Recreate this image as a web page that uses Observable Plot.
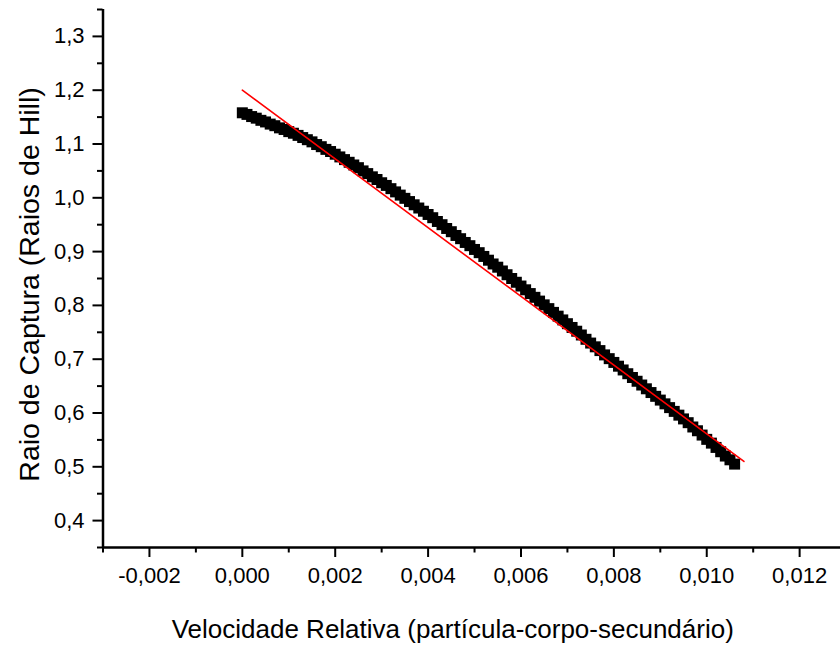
<!DOCTYPE html>
<html>
<head>
<meta charset="utf-8">
<script src="https://cdn.jsdelivr.net/npm/d3@7"></script>
<script src="https://cdn.jsdelivr.net/npm/@observablehq/plot@0.6"></script>
<style>
  html, body { margin: 0; padding: 0; background: #fff; }
  svg { display: block; }
</style>
</head>
<body>
<div id="chart"></div>
<script>
// Relative velocity (x) and capture radius in Hill radii (y)
const velocity = [
  0.0000, 0.0001, 0.0002, 0.0003, 0.0004, 0.0005, 0.0006, 0.0007, 0.0008, 0.0009,
  0.0010, 0.0011, 0.0012, 0.0013, 0.0014, 0.0015, 0.0016, 0.0017, 0.0018, 0.0019,
  0.0020, 0.0021, 0.0022, 0.0023, 0.0024, 0.0025, 0.0026, 0.0027, 0.0028, 0.0029,
  0.0030, 0.0031, 0.0032, 0.0033, 0.0034, 0.0035, 0.0036, 0.0037, 0.0038, 0.0039,
  0.0040, 0.0041, 0.0042, 0.0043, 0.0044, 0.0045, 0.0046, 0.0047, 0.0048, 0.0049,
  0.0050, 0.0051, 0.0052, 0.0053, 0.0054, 0.0055, 0.0056, 0.0057, 0.0058, 0.0059,
  0.0060, 0.0061, 0.0062, 0.0063, 0.0064, 0.0065, 0.0066, 0.0067, 0.0068, 0.0069,
  0.0070, 0.0071, 0.0072, 0.0073, 0.0074, 0.0075, 0.0076, 0.0077, 0.0078, 0.0079,
  0.0080, 0.0081, 0.0082, 0.0083, 0.0084, 0.0085, 0.0086, 0.0087, 0.0088, 0.0089,
  0.0090, 0.0091, 0.0092, 0.0093, 0.0094, 0.0095, 0.0096, 0.0097, 0.0098, 0.0099,
  0.0100, 0.0101, 0.0102, 0.0103, 0.0104, 0.0105, 0.0106
];
const captureRadius = [
  1.158, 1.155, 1.151, 1.148, 1.144, 1.141, 1.137, 1.134, 1.130, 1.127,
  1.123, 1.120, 1.116, 1.112, 1.108, 1.104, 1.099, 1.095, 1.090, 1.086,
  1.081, 1.076, 1.071, 1.066, 1.061, 1.056, 1.050, 1.045, 1.039, 1.034,
  1.028, 1.023, 1.017, 1.011, 1.005, 0.999, 0.993, 0.987, 0.981, 0.975,
  0.969, 0.963, 0.956, 0.950, 0.943, 0.937, 0.930, 0.924, 0.917, 0.911,
  0.904, 0.898, 0.891, 0.884, 0.877, 0.871, 0.864, 0.857, 0.850, 0.843,
  0.836, 0.829, 0.822, 0.815, 0.808, 0.801, 0.794, 0.787, 0.780, 0.773,
  0.766, 0.759, 0.752, 0.745, 0.737, 0.730, 0.723, 0.716, 0.708, 0.701,
  0.694, 0.687, 0.680, 0.673, 0.666, 0.659, 0.652, 0.645, 0.638, 0.631,
  0.624, 0.617, 0.610, 0.603, 0.596, 0.589, 0.582, 0.574, 0.567, 0.559,
  0.551, 0.544, 0.536, 0.528, 0.520, 0.513, 0.505
];
// Linear fit (red line) endpoints
const fitVelocity = [0.0000, 0.0108];
const fitRadius = [1.200, 0.510];

// Axis ticks
const xMajorTicks = [-0.002, 0.000, 0.002, 0.004, 0.006, 0.008, 0.010, 0.012];
const xMinorTicks = [-0.003, -0.001, 0.001, 0.003, 0.005, 0.007, 0.009, 0.011];
const yMajorTicks = [0.4, 0.5, 0.6, 0.7, 0.8, 0.9, 1.0, 1.1, 1.2, 1.3];
const yMinorTicks = [0.35, 0.45, 0.55, 0.65, 0.75, 0.85, 0.95, 1.05, 1.15, 1.25, 1.35];
const xDomain = [-0.003, 0.01288];
const yDomain = [0.35, 1.35];

const xTitle = "Velocidade Relativa (partícula-corpo-secundário)";
const yTitle = "Raio de Captura (Raios de Hill)";

const points = velocity.map((v, i) => ({v, r: captureRadius[i]}));
const fit = fitVelocity.map((v, i) => ({v, r: fitRadius[i]}));

const locale = d3.formatLocale({decimal: ",", thousands: ".", grouping: [3], currency: ["", ""], minus: "-"});
const fmtX = locale.format(".3f");
const fmtY = locale.format(".1f");

const chart = Plot.plot({
  width: 840,
  height: 645,
  marginLeft: 102.5,
  marginRight: 0,
  marginTop: 9,
  marginBottom: 98,
  style: {fontFamily: "'Liberation Sans', Arial, sans-serif", background: "#fff", color: "#000"},
  x: {domain: xDomain, label: null},
  y: {domain: yDomain, label: null},
  marks: [
    Plot.axisX(xMinorTicks, {tickSize: 5.5, strokeWidth: 2, text: null, label: null}),
    Plot.axisX(xMajorTicks, {tickSize: 10, tickPadding: 10, strokeWidth: 2, fontSize: 22, tickFormat: fmtX, label: null}),
    Plot.axisY(yMinorTicks, {tickSize: 5.5, strokeWidth: 2, text: null, label: null}),
    Plot.axisY(yMajorTicks, {tickSize: 10, tickPadding: 8.5, strokeWidth: 2, fontSize: 22, tickFormat: fmtY, label: null}),
    Plot.ruleY([yDomain[0]], {stroke: "#000", strokeWidth: 2.5}),
    Plot.ruleX([xDomain[0]], {stroke: "#000", strokeWidth: 2.5}),
    Plot.dot(points, {x: "v", y: "r", symbol: "square", r: 6.2, fill: "#000", stroke: "none"}),
    Plot.line(fit, {x: "v", y: "r", stroke: "#ff0000", strokeWidth: 1.6}),
    Plot.text([xTitle], {frameAnchor: "bottom", lineAnchor: "bottom", dy: 90, dx: -19, fontSize: 26, fill: "#000", text: d => d}),
    Plot.text([yTitle], {frameAnchor: "left", textAnchor: "middle", lineAnchor: "middle", rotate: -90, dx: -73.5, dy: 6, fontSize: 28.5, fill: "#000", text: d => d})
  ]
});
document.getElementById("chart").appendChild(chart);
</script>
</body>
</html>
